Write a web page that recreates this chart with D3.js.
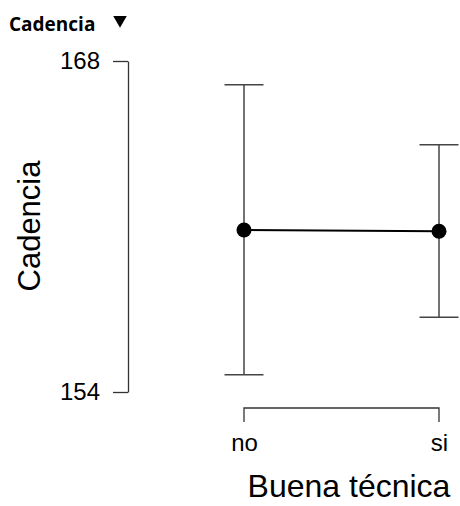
<!DOCTYPE html>
<html>
<head>
<meta charset="utf-8">
<script src="https://cdn.jsdelivr.net/npm/d3@7"></script>
<style>
  body { margin: 0; background: #fff; }
  text { font-family: "Liberation Sans", Arial, sans-serif; }
</style>
</head>
<body>
<svg id="chart"></svg>
<script>
// data
const groups = ["no", "si"];
const means = [160.85, 160.80];
const lower = [154.73, 157.16];
const upper = [167.0, 164.46];
const yTicks = [154, 168];

const width = 460, height = 506;

const svg = d3.select("#chart")
    .attr("width", width)
    .attr("height", height);

// heading
svg.append("text")
    .attr("x", 9)
    .attr("y", 31)
    .style("font-family", "'Open Sans', Lato, sans-serif")
    .style("font-weight", "bold")
    .style("font-size", "19px")
    .text("Cadencia");
svg.append("path")
    .attr("d", d3.symbol(d3.symbolTriangle, 80)())
    .attr("transform", "translate(120,20) rotate(180)")
    .attr("fill", "#000");

const xScale = d3.scalePoint()
    .domain(groups)
    .range([244, 439]);

const yScale = d3.scaleLinear()
    .domain([154, 168])
    .range([392, 61]);

// y axis
const yAxis = svg.append("g")
    .attr("transform", "translate(128,0)")
    .call(d3.axisLeft(yScale).tickValues(yTicks).tickSize(15).tickPadding(13).tickSizeOuter(0));
yAxis.select(".domain").attr("stroke", "#333").attr("stroke-width", 1.3);
yAxis.selectAll(".tick line").attr("stroke", "#333").attr("stroke-width", 1.3);
yAxis.selectAll(".tick text")
    .attr("fill", "#000")
    .style("font-size", "24px");

// x axis (bracket style)
const xAxis = svg.append("g")
    .attr("transform", "translate(0,408)")
    .call(d3.axisBottom(xScale).tickSize(0).tickPadding(26).tickSizeOuter(0));
xAxis.select(".domain").remove();
xAxis.append("path")
    .attr("d", "M" + xScale("no") + ",14V0H" + xScale("si") + "V14")
    .attr("fill", "none")
    .attr("stroke", "#333")
    .attr("stroke-width", 1.3);
xAxis.selectAll(".tick text")
    .attr("fill", "#000")
    .attr("dy", "0.71em")
    .style("font-size", "24px");

// axis titles
svg.append("text")
    .attr("transform", "translate(40,226) rotate(-90)")
    .attr("text-anchor", "middle")
    .style("font-size", "31px")
    .text("Cadencia");

svg.append("text")
    .attr("x", 349)
    .attr("y", 497)
    .attr("text-anchor", "middle")
    .style("font-size", "32px")
    .text("Buena técnica");

// error bars
const capW = 19.5;
const bars = svg.append("g");
groups.forEach(function(g, i) {
    const x = xScale(g);
    bars.append("line")
        .attr("x1", x).attr("x2", x)
        .attr("y1", yScale(lower[i])).attr("y2", yScale(upper[i]))
        .attr("stroke", "#444").attr("stroke-width", 1.5);
    [lower[i], upper[i]].forEach(function(v) {
        bars.append("line")
            .attr("x1", x - capW).attr("x2", x + capW)
            .attr("y1", yScale(v)).attr("y2", yScale(v))
            .attr("stroke", "#444").attr("stroke-width", 1.5);
    });
});

// mean line and points
svg.append("path")
    .datum(means)
    .attr("fill", "none")
    .attr("stroke", "#000")
    .attr("stroke-width", 2)
    .attr("d", d3.line()
        .x(function(d, i) { return xScale(groups[i]); })
        .y(function(d) { return yScale(d); }));

svg.selectAll("circle.pt")
    .data(means)
    .enter().append("circle")
    .attr("class", "pt")
    .attr("cx", function(d, i) { return xScale(groups[i]); })
    .attr("cy", function(d) { return yScale(d); })
    .attr("r", 7.5)
    .attr("fill", "#000");
</script>
</body>
</html>
